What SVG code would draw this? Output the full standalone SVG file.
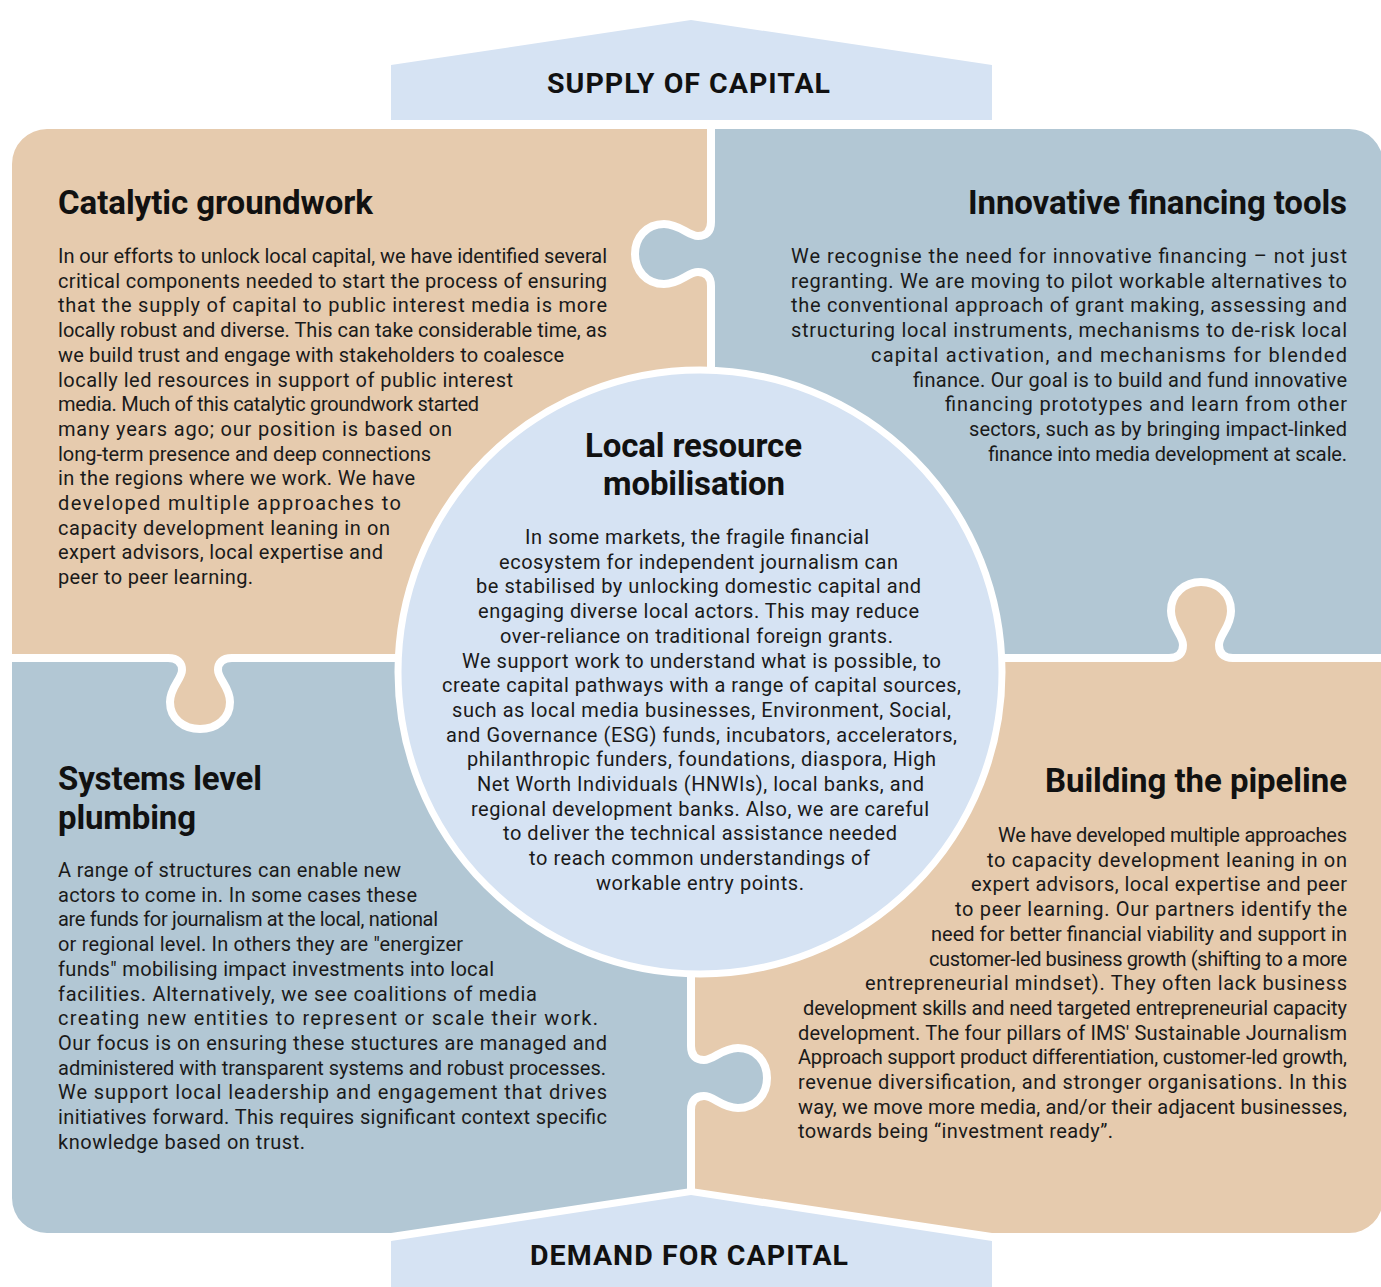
<svg xmlns="http://www.w3.org/2000/svg" width="1381" height="1287" viewBox="0 0 1381 1287">
<defs>
<style>
.tan{fill:#E6CBAE}
.blue{fill:#B2C7D4}
.light{fill:#D6E3F3}
.div{fill:none;stroke:#FFFFFF;stroke-width:8;stroke-linejoin:round}
text{font-family:Roboto,"Liberation Sans",Arial,sans-serif;fill:#1A1A1A}
.h{font-size:33px;font-weight:700;fill:#111111}
.b{font-size:20px}
.ban{font-size:28.5px;font-weight:700;fill:#111111}
</style>
<clipPath id="sil">
<path d="M47,129 H1349 A34,34 0 0 1 1383,163 V1199 A34,34 0 0 1 1349,1233 H992 L691,1188 L391,1233 H47 A35,35 0 0 1 12,1198 V164 A35,35 0 0 1 47,129 Z"/>
</clipPath>
</defs>
<rect width="1381" height="1287" fill="#FFFFFF"/>

<g id="supply">
<polygon class="light" points="391,120 391,65 691,20 992,65 992,120"/>
<text class="ban" x="547" y="93" textLength="283">SUPPLY OF CAPITAL</text>
</g>

<g id="demand">
<polygon class="light" points="391,1287 391,1241 691,1195 992,1241 992,1287"/>
<text class="ban" x="530" y="1265" textLength="318">DEMAND FOR CAPITAL</text>
</g>

<g id="puzzle" clip-path="url(#sil)">
<rect class="tan" x="0" y="120" width="711" height="538"/>
<rect class="blue" x="711" y="120" width="680" height="538"/>
<rect class="blue" x="0" y="658" width="691" height="640"/>
<rect class="tan" x="691" y="658" width="700" height="640"/>
<path class="blue" d="M711,222 C711,232 706,236 698,236 C688,236 680,224 664,224 C646,224 635,238 635,254 C635,270 646,284 664,284 C680,284 688,272 698,272 C706,272 711,276 711,286 Z"/>
<path class="tan" d="M1169,658 C1179,658 1183,653 1183,645 C1183,635 1171,627 1171,611 C1171,593 1185,582 1201,582 C1217,582 1231,593 1231,611 C1231,627 1219,635 1219,645 C1219,653 1223,658 1233,658 Z"/>
<path class="tan" d="M168,658 C178,658 182,663 182,670 C182,679 170,687 170,702 C170,719 184,729 200,729 C216,729 230,719 230,702 C230,687 218,679 218,670 C218,663 222,658 232,658 Z"/>
<path class="blue" d="M691,1046 C691,1056 696,1060 704,1060 C714,1060 722,1048 738,1048 C756,1048 767,1062 767,1078 C767,1094 756,1108 738,1108 C722,1108 714,1096 704,1096 C696,1096 691,1100 691,1110 Z"/>
</g>

<g id="dividers">
<path class="div" d="M711,120 V222 C711,232 706,236 698,236 C688,236 680,224 664,224 C646,224 635,238 635,254 C635,270 646,284 664,284 C680,284 688,272 698,272 C706,272 711,276 711,286 V660"/>
<path class="div" d="M0,658 H168 C178,658 182,663 182,670 C182,679 170,687 170,702 C170,719 184,729 200,729 C216,729 230,719 230,702 C230,687 218,679 218,670 C218,663 222,658 232,658 H1169 C1179,658 1183,653 1183,645 C1183,635 1171,627 1171,611 C1171,593 1185,582 1201,582 C1217,582 1231,593 1231,611 C1231,627 1219,635 1219,645 C1219,653 1223,658 1233,658 H1390"/>
<path class="div" d="M691,656 V1046 C691,1056 696,1060 704,1060 C714,1060 722,1048 738,1048 C756,1048 767,1062 767,1078 C767,1094 756,1108 738,1108 C722,1108 714,1096 704,1096 C696,1096 691,1100 691,1110 V1195"/>
</g>

<g id="catalytic">
<text class="h" x="58" y="214" textLength="315">Catalytic groundwork</text>
<text class="b" x="58" y="263" textLength="549">In our efforts to unlock local capital, we have identified several</text>
<text class="b" x="58" y="287.7" textLength="549">critical components needed to start the process of ensuring</text>
<text class="b" x="58" y="312.4" textLength="549">that the supply of capital to public interest media is more</text>
<text class="b" x="58" y="337.1" textLength="549">locally robust and diverse. This can take considerable time, as</text>
<text class="b" x="58" y="361.8" textLength="506">we build trust and engage with stakeholders to coalesce</text>
<text class="b" x="58" y="386.5" textLength="455">locally led resources in support of public interest</text>
<text class="b" x="58" y="411.2" textLength="421">media. Much of this catalytic groundwork started</text>
<text class="b" x="58" y="435.9" textLength="394">many years ago; our position is based on</text>
<text class="b" x="58" y="460.6" textLength="373">long-term presence and deep connections</text>
<text class="b" x="58" y="485.3" textLength="357">in the regions where we work. We have</text>
<text class="b" x="58" y="510" textLength="343">developed multiple approaches to</text>
<text class="b" x="58" y="534.7" textLength="332">capacity development leaning in on</text>
<text class="b" x="58" y="559.4" textLength="325">expert advisors, local expertise and</text>
<text class="b" x="58" y="584.1" textLength="195">peer to peer learning.</text>
</g>

<g id="innovative">
<text class="h" x="968" y="214" textLength="379">Innovative financing tools</text>
<text class="b" x="791" y="263" textLength="556">We recognise the need for innovative financing – not just</text>
<text class="b" x="791" y="287.7" textLength="556">regranting. We are moving to pilot workable alternatives to</text>
<text class="b" x="791" y="312.4" textLength="556">the conventional approach of grant making, assessing and</text>
<text class="b" x="791" y="337.1" textLength="556">structuring local instruments, mechanisms to de-risk local</text>
<text class="b" x="871" y="361.8" textLength="476">capital activation, and mechanisms for blended</text>
<text class="b" x="913" y="386.5" textLength="434">finance. Our goal is to build and fund innovative</text>
<text class="b" x="945" y="411.2" textLength="402">financing prototypes and learn from other</text>
<text class="b" x="969" y="435.9" textLength="378">sectors, such as by bringing impact-linked</text>
<text class="b" x="988" y="460.6" textLength="359">finance into media development at scale.</text>
</g>

<g id="systems">
<text class="h" x="58" y="790" textLength="204">Systems level</text>
<text class="h" x="58" y="829" textLength="138">plumbing</text>
<text class="b" x="58" y="877" textLength="343">A range of structures can enable new</text>
<text class="b" x="58" y="901.7" textLength="359">actors to come in. In some cases these</text>
<text class="b" x="58" y="926.4" textLength="380">are funds for journalism at the local, national</text>
<text class="b" x="58" y="951.1" textLength="405">or regional level. In others they are "energizer</text>
<text class="b" x="58" y="975.8" textLength="436">funds" mobilising impact investments into local</text>
<text class="b" x="58" y="1000.5" textLength="479">facilities. Alternatively, we see coalitions of media</text>
<text class="b" x="58" y="1025.2" textLength="540">creating new entities to represent or scale their work.</text>
<text class="b" x="58" y="1049.9" textLength="549">Our focus is on ensuring these stuctures are managed and</text>
<text class="b" x="58" y="1074.6" textLength="548">administered with transparent systems and robust processes.</text>
<text class="b" x="58" y="1099.3" textLength="549">We support local leadership and engagement that drives</text>
<text class="b" x="58" y="1124" textLength="549">initiatives forward. This requires significant context specific</text>
<text class="b" x="58" y="1148.7" textLength="247">knowledge based on trust.</text>
</g>

<g id="pipeline">
<text class="h" x="1045" y="792" textLength="302">Building the pipeline</text>
<text class="b" x="998" y="842" textLength="349">We have developed multiple approaches</text>
<text class="b" x="987" y="866.7" textLength="360">to capacity development leaning in on</text>
<text class="b" x="971" y="891.4" textLength="376">expert advisors, local expertise and peer</text>
<text class="b" x="955" y="916.1" textLength="392">to peer learning. Our partners identify the</text>
<text class="b" x="931" y="940.8" textLength="416">need for better financial viability and support in</text>
<text class="b" x="929" y="965.5" textLength="418">customer-led business growth (shifting to a more</text>
<text class="b" x="865" y="990.2" textLength="482">entrepreneurial mindset). They often lack business</text>
<text class="b" x="803" y="1014.9" textLength="544">development skills and need targeted entrepreneurial capacity</text>
<text class="b" x="798" y="1039.6" textLength="549">development. The four pillars of IMS' Sustainable Journalism</text>
<text class="b" x="798" y="1064.3" textLength="549">Approach support product differentiation, customer-led growth,</text>
<text class="b" x="798" y="1089" textLength="549">revenue diversification, and stronger organisations. In this</text>
<text class="b" x="798" y="1113.7" textLength="549">way, we move more media, and/or their adjacent businesses,</text>
<text class="b" x="798" y="1138.4" textLength="315">towards being “investment ready”.</text>
</g>

<g id="center">
<circle class="light" cx="700" cy="672" r="302" stroke="#FFFFFF" stroke-width="7"/>
<text class="h" x="585" y="457" textLength="217">Local resource</text>
<text class="h" x="603" y="495" textLength="182">mobilisation</text>
<text class="b" x="525" y="544" textLength="344">In some markets, the fragile financial</text>
<text class="b" x="499" y="568.7" textLength="399">ecosystem for independent journalism can</text>
<text class="b" x="476" y="593.4" textLength="445">be stabilised by unlocking domestic capital and</text>
<text class="b" x="478" y="618.1" textLength="441">engaging diverse local actors. This may reduce</text>
<text class="b" x="500" y="642.8" textLength="393">over-reliance on traditional foreign grants.</text>
<text class="b" x="462" y="667.5" textLength="479">We support work to understand what is possible, to</text>
<text class="b" x="442" y="692.2" textLength="519">create capital pathways with a range of capital sources,</text>
<text class="b" x="452" y="716.9" textLength="499">such as local media businesses, Environment, Social,</text>
<text class="b" x="446" y="741.6" textLength="511">and Governance (ESG) funds, incubators, accelerators,</text>
<text class="b" x="467" y="766.3" textLength="469">philanthropic funders, foundations, diaspora, High</text>
<text class="b" x="477" y="791" textLength="447">Net Worth Individuals (HNWIs), local banks, and</text>
<text class="b" x="471" y="815.7" textLength="458">regional development banks. Also, we are careful</text>
<text class="b" x="503" y="840.4" textLength="394">to deliver the technical assistance needed</text>
<text class="b" x="529" y="865.1" textLength="341">to reach common understandings of</text>
<text class="b" x="596" y="889.8" textLength="208">workable entry points.</text>
</g>
</svg>
